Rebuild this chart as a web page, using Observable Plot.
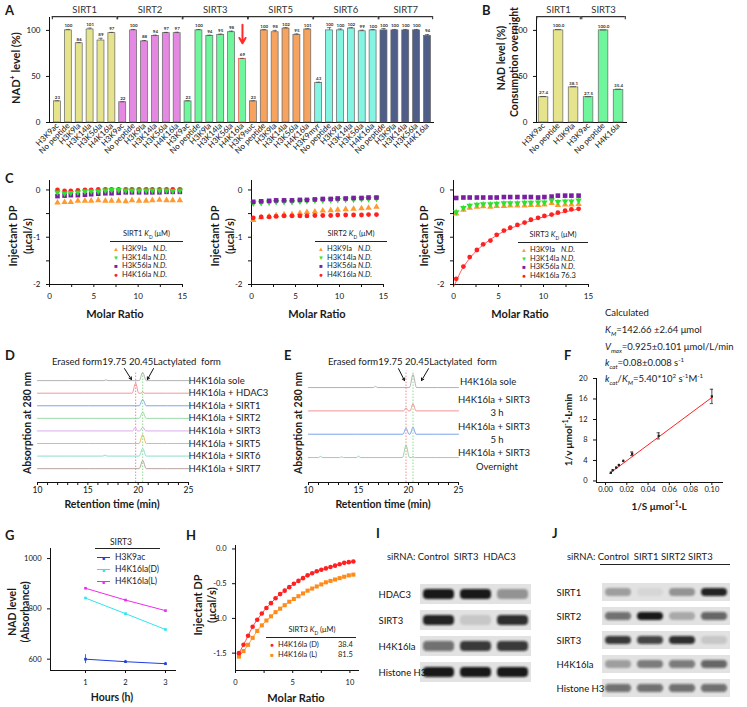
<!DOCTYPE html>
<html><head><meta charset="utf-8">
<script src="https://cdn.jsdelivr.net/npm/d3@7"></script>
<script src="https://cdn.jsdelivr.net/npm/@observablehq/plot@0.6"></script>
<style>
html,body{margin:0;padding:0;background:#fff;}
#root{position:relative;width:747px;height:707px;overflow:hidden;font-family:Lato,"Open Sans",sans-serif;color:#1a1a1a;}
.t{position:absolute;white-space:nowrap;line-height:1;}
sub,sup{font-size:65%;line-height:0;}
.ul{position:absolute;height:0;border-top:1px solid #222;}
</style></head><body><div id="root"></div>
<script>
// ---------------- DATA ----------------
// Panel A
const aGroups = ["SIRT1","SIRT2","SIRT3","SIRT5","SIRT6","SIRT7"];
const aColors = ["#e6e38d","#e588e2","#6ff59b","#f5a35e","#83f5e2","#4e5e88"];
const aPeptides = [
  ["H3K9ac","No peptide","H3K9la","H3K14la","H3K56la","H4K16la"],
  ["H3K9ac","No peptide","H3K9la","H3K14la","H3K56la","H4K16la"],
  ["H3K9ac","No peptide","H3K9la","H3K14la","H3K56la","H4K16la"],
  ["H3K9suc","No peptide","H3K9la","H3K14la","H3K56la","H4K16la"],
  ["H3K9myr","No peptide","H3K9la","H3K14la","H3K56la","H4K16la"],
  ["No peptide","H3K9la","H3K14la","H3K56la","H4K16la"]
];
const aValues = [[23,100,86,101,89,97],[22,100,88,94,97,97],[23,100,94,95,98,69],[23,100,98,102,95,101],[43,100,100,102,99,100],[100,100,100,100,94]];
const aErrors = [[0.5,1,0.8,1.5,2.5,0.8],[0.5,1,1,0.8,0.8,1],[0.5,1,0.8,1,1.2,0.6],[0.5,0.8,2,1,1.2,0.8],[0.8,3,1.5,1,1.2,0.8],[2,1,1,1,1.5,1]];
// Panel B
const bGroups = ["SIRT1","SIRT1","SIRT1","SIRT3","SIRT3","SIRT3"];
const bLabels = ["H3K9ac","No peptide","H3K9la","H3K9ac","No peptide","H4K16la"];
const bValues = [27.4,100.0,38.1,27.5,100.0,35.4];
const bErrors = [0.8,1,0.8,0.5,0.5,0.8];
const bColors = {SIRT1:"#e6e38d", SIRT3:"#6ff59b"};
// Panel C
const cColors = {H3K9la:"#ff9a30", H3K14la:"#2fe02f", H3K56la:"#7b1fa2", H4K16la:"#ff2020"};
const c1X = [0.9,1.7,2.4,3.2,4.0,4.7,5.5,6.3,7.0,7.8,8.6,9.3,10.1,10.9,11.6,12.4,13.2,13.9,14.7];
const c1H3K9la = [-0.27,-0.26,-0.26,-0.23,-0.23,-0.23,-0.22,-0.23,-0.23,-0.23,-0.24,-0.22,-0.23,-0.23,-0.22,-0.21,-0.22,-0.22,-0.22];
const c1H3K14la = [-0.05,-0.07,-0.06,-0.05,-0.03,-0.03,-0.03,-0.01,0,0,-0.01,-0.01,-0.01,-0.01,-0.01,-0.01,-0.01,-0.02,-0.01];
const c1H3K56la = [-0.13,-0.12,-0.11,-0.11,-0.10,-0.09,-0.08,-0.07,-0.07,-0.06,-0.05,-0.05,-0.05,-0.05,-0.05,-0.05,-0.04,-0.04,-0.04];
const c1H4K16la = [0,-0.02,-0.02,-0.01,0,0,0.01,0.01,0.01,0.01,0.01,0.01,0.01,0.01,0.01,0.01,0.01,0.01,0.01];
const c2X = [0.2,1.1,2.0,2.8,3.7,4.6,5.5,6.3,7.2,8.1,9.0,9.8,10.7,11.6,12.5,13.3,14.2];
const c2H3K9la = [-0.64,-0.58,-0.56,-0.54,-0.52,-0.52,-0.49,-0.47,-0.46,-0.44,-0.43,-0.42,-0.41,-0.40,-0.39,-0.38,-0.36];
const c2H3K14la = [-0.28,-0.27,-0.26,-0.25,-0.25,-0.25,-0.24,-0.23,-0.22,-0.22,-0.21,-0.21,-0.20,-0.20,-0.19,-0.19,-0.18];
const c2H3K56la = [-0.25,-0.24,-0.23,-0.22,-0.22,-0.22,-0.21,-0.21,-0.20,-0.19,-0.19,-0.18,-0.18,-0.17,-0.17,-0.16,-0.16];
const c2H4K16la = [-0.59,-0.57,-0.57,-0.56,-0.55,-0.55,-0.55,-0.55,-0.54,-0.54,-0.54,-0.53,-0.53,-0.53,-0.53,-0.52,-0.52];
const c3X = [0.3,1.1,1.8,2.6,3.3,4.1,4.8,5.6,6.3,7.1,7.9,8.6,9.4,10.1,10.9,11.6,12.4,13.1,13.9];
const c3H3K9la = [-0.50,-0.42,-0.38,-0.36,-0.35,-0.36,-0.34,-0.34,-0.33,-0.33,-0.33,-0.32,-0.32,-0.31,-0.28,-0.32,-0.31,-0.31,-0.30];
const c3H3K14la = [-0.47,-0.38,-0.33,-0.31,-0.30,-0.30,-0.29,-0.28,-0.28,-0.28,-0.27,-0.27,-0.26,-0.26,-0.22,-0.25,-0.24,-0.24,-0.22];
const c3H3K56la = [-0.17,-0.16,-0.16,-0.16,-0.16,-0.16,-0.16,-0.15,-0.15,-0.15,-0.15,-0.15,-0.16,-0.15,-0.14,-0.12,-0.12,-0.12,-0.12];
const c3H4K16la = [-1.88,-1.62,-1.42,-1.27,-1.15,-1.07,-0.95,-0.86,-0.80,-0.74,-0.69,-0.63,-0.59,-0.55,-0.52,-0.48,-0.44,-0.41,-0.40];
const c3FitX = [0,0.5,1,2,3,4,5,6,8,10,12,14];
const c3FitY = [-2.05,-1.85,-1.66,-1.40,-1.21,-1.06,-0.94,-0.84,-0.69,-0.57,-0.48,-0.40];
const c3Err = [0.06,0.05,0.05,0.05,0.05,0.05,0.05,0.05,0.05,0.05,0.05,0.05,0.05,0.05,0.05,0.05,0.05,0.05,0.05];
// Panel D (retention time, absorbance offset units)
const dNames = ["H4K16la sole","H4K16la + HDAC3","H4K16la + SIRT1","H4K16la + SIRT2","H4K16la + SIRT3","H4K16la + SIRT5","H4K16la + SIRT6","H4K16la + SIRT7"];
const dColors = ["#a9a9a9","#f28b8b","#6f9be8","#8fd4a0","#d6a3ea","#e8b447","#7fd9cf","#b09a95"];
const dSole  = [[10,0],[16.6,0],[16.8,0.06],[17.0,0],[20.1,0],[20.45,0.65],[20.8,0],[25,0]];
const dHDAC3 = [[10,0],[19.4,0],[19.75,0.8],[20.05,0],[20.3,0],[20.45,0.12],[20.6,0],[25,0]];
const dSIRT1 = [[10,0],[20.1,0],[20.45,0.5],[20.8,0],[25,0]];
const dSIRT2 = [[10,0],[20.1,0],[20.45,0.5],[20.8,0],[25,0]];
const dSIRT3 = [[10,0],[19.45,0],[19.7,0.28],[19.95,0],[20.15,0],[20.45,0.3],[20.75,0],[25,0]];
const dSIRT5 = [[10,0],[20.1,0],[20.45,0.7],[20.8,0],[25,0]];
const dSIRT6 = [[10,0],[16.5,0],[16.7,0.08],[16.9,0],[20.1,0],[20.45,0.6],[20.8,0],[25,0]];
const dSIRT7 = [[10,0],[20.1,0],[20.45,0.65],[20.8,0],[25,0]];
const dMarkers = [19.75, 20.45];
const dArrows = [{x1:18.64,y1:0.96,x2:19.33,y2:0.09},{x1:21.52,y1:0.96,x2:20.92,y2:0.09}];
// Panel E
const eColors = ["#a9a9a9","#f08a8a","#6e98e6","#88cf98"];
const eSole = [[10,0],[16.5,0],[16.7,0.05],[16.9,0],[20.1,0],[20.45,0.56],[20.8,0],[25,0]];
const e3h = [[10,0],[19.5,0],[19.75,0.13],[20.0,0],[20.15,0],[20.45,0.3],[20.75,0],[25,0]];
const e5h = [[10,0],[19.45,0],[19.75,0.26],[20.05,0],[20.15,0],[20.45,0.3],[20.75,0],[25,0]];
const eOvernight = [[10,0],[11.0,0],[11.2,0.05],[11.4,0],[13.1,0],[13.3,0.03],[13.5,0],[14.8,0],[15.0,0.06],[15.2,0],[19.4,0],[19.75,0.52],[20.1,0],[20.3,0],[20.45,0.04],[20.6,0],[25,0]];
const eArrows = [{x1:19.0,y1:0.81,x2:19.6,y2:0.3},{x1:22.0,y1:0.81,x2:21.3,y2:0.3}];
// Panel F
const fS = [0.005,0.0067,0.01,0.0125,0.0167,0.025,0.05,0.1];
const fV = [1.6,2.1,2.6,3.1,3.9,5.3,8.8,16.5];
const fErr = [0.1,0.1,0.15,0.15,0.2,0.35,0.6,1.4];
const fFitS = [0.004,0.1];
const fFitV = [1.5,16.3];
// Panel G
const gHours = [1,2,3];
const gH3K9ac = [600,590,582];
const gH3K9acErr = [18,5,5];
const gH4K16laD = [843,781,718];
const gH4K16laL = [882,835,793];
// Panel H
const hX = [0.3,0.7,1.1,1.5,1.9,2.3,2.7,3.1,3.5,3.9,4.3,4.7,5.1,5.5,5.9,6.3,6.7,7.1,7.5,7.9,8.3,8.7,9.1,9.5,9.9,10.3];
const hD = [-1.50,-1.38,-1.25,-1.12,-1.02,-0.93,-0.85,-0.78,-0.71,-0.65,-0.60,-0.55,-0.50,-0.46,-0.42,-0.38,-0.35,-0.32,-0.30,-0.28,-0.26,-0.24,-0.22,-0.20,-0.19,-0.18];
const hL = [-1.55,-1.47,-1.38,-1.28,-1.18,-1.10,-1.03,-0.97,-0.91,-0.86,-0.81,-0.76,-0.72,-0.68,-0.64,-0.60,-0.57,-0.54,-0.51,-0.48,-0.46,-0.44,-0.42,-0.40,-0.38,-0.37];
// Panel I / J blots (band intensity 0..1)
const iLanes = ["Control","SIRT3","HDAC3"];
const iRows = ["HDAC3","SIRT3","H4K16la","Histone H3"];
const iBands = [[0.95,0.95,0.35],[0.9,0.12,0.85],[0.55,0.8,0.8],[0.95,0.95,0.95]];
const jLanes = ["Control","SIRT1","SIRT2","SIRT3"];
const jRows = ["SIRT1","SIRT2","SIRT3","H4K16la","Histone H3"];
const jBands = [[0.3,0.05,0.35,0.9],[0.55,0.95,0.25,0.6],[0.8,0.75,0.85,0.12],[0.3,0.45,0.5,0.6],[0.55,0.55,0.55,0.55]];

// ---------------- HELPERS ----------------
const root = document.getElementById("root");
function place(node, left, top){ const d=document.createElement("div"); d.style.position="absolute"; d.style.left=left+"px"; d.style.top=top+"px"; d.appendChild(node); root.appendChild(d); return node; }
function panel(frame, m, opts){
  const fs = opts.fs || 8; const o = Object.assign({}, opts); delete o.fs;
  const p = Plot.plot(Object.assign({
    width: frame.x1-frame.x0+m.l+m.r, height: frame.y1-frame.y0+m.t+m.b,
    marginLeft:m.l, marginRight:m.r, marginTop:m.t, marginBottom:m.b,
    color:{type:"identity"},
    style:{fontFamily:"Lato, 'Open Sans', sans-serif", fontSize: fs+"px", color:"#111", background:"transparent", overflow:"visible"}
  }, o));
  return place(p, frame.x0-m.l, frame.y0-m.t);
}
function txt(html, x, y, o={}){
  const d=document.createElement("div"); d.className="t"; d.innerHTML=html;
  d.style.left=x+"px"; d.style.top=y+"px"; d.style.fontSize=(o.fs||9)+"px";
  if(o.bold) d.style.fontWeight="bold"; if(o.italic) d.style.fontStyle="italic"; d.style.color=o.color||"#1a1a1a";
  const ax = o.anchor==="middle"?"-50%":o.anchor==="end"?"-100%":"0";
  d.style.transform = o.rot ? `translate(-50%,-50%) rotate(${o.rot}deg)` : `translate(${ax},-50%)`;
  root.appendChild(d); return d;
}
function uline(x0,x1,y){ const d=document.createElement("div"); d.className="ul"; d.style.left=x0+"px"; d.style.width=(x1-x0)+"px"; d.style.top=y+"px"; root.appendChild(d); }
const zip = (xs, ys) => xs.map((x,i)=>({x, y: ys[i]}));
const triDown = { draw(ctx, size){ const y = -Math.sqrt(size/(Math.sqrt(3)*3)); ctx.moveTo(0,-y*2); ctx.lineTo(Math.sqrt(3)*y, y); ctx.lineTo(-Math.sqrt(3)*y, y); ctx.closePath(); } };

// ---------------- PANEL A ----------------
const aRows = []; const aGroupRows = []; let k = 0;
aGroups.forEach((g,gi)=>{ const s=k; aPeptides[gi].forEach((p,pi)=>{ aRows.push({i:k, gi, label:p, v:aValues[gi][pi], e:aErrors[gi][pi], hl: g==="SIRT3" && p==="H4K16la"}); k++; }); aGroupRows.push({name:g, s, e:k-1, c:(s+k-1)/2}); });
const aHl = aRows.filter(d=>d.hl);
panel({x0:49,x1:433,y0:17,y1:122},{l:30,r:5,t:17,b:50},{
  x:{domain:[-0.73,34.55], ticks:aRows.map(d=>d.i), tickFormat:i=>aRows[i]?aRows[i].label:"", tickRotate:-45, tickSize:0, tickPadding:2, line:true, label:null},
  y:{domain:[0,114], ticks:[0,50,100], tickFormat:d=>String(d), tickSize:3, line:true, label:null},
  marks:[
    Plot.rect(aRows,{x1:d=>d.i-0.32, x2:d=>d.i+0.32, y1:0, y2:"v", fill:d=>aColors[d.gi], stroke:d=>d.hl?"#ff4a4a":"#666", strokeWidth:0.7}),
    Plot.ruleX(aRows,{x:"i", y1:"v", y2:d=>d.v+d.e, stroke:"#333", strokeWidth:0.6}),
    Plot.ruleY(aRows,{y:d=>d.v+d.e, x1:d=>d.i-0.2, x2:d=>d.i+0.2, stroke:"#333", strokeWidth:0.6}),
    Plot.text(aRows,{x:"i", y:d=>d.v+d.e, text:d=>String(d.v), dy:-3.5, fontSize:4.5, fontWeight:"bold", fill:"#333"}),
    Plot.ruleY(aGroupRows,{y:115, x1:d=>d.s-0.47, x2:d=>d.e+0.47, stroke:"#333", strokeWidth:1.1}),
    Plot.ruleX(aGroupRows,{x:d=>d.s-0.47, y1:111.5, y2:115, stroke:"#333", strokeWidth:1.1}),
    Plot.ruleX(aGroupRows,{x:d=>d.e+0.47, y1:111.5, y2:115, stroke:"#333", strokeWidth:1.1}),
    Plot.text(aGroupRows,{x:"c", y:122.5, text:"name", fontSize:9.5, fill:"#333"}),
    Plot.arrow(aHl,{x1:"i", x2:"i", y1:106, y2:86, stroke:"#ff2a2a", strokeWidth:2, headLength:6})
  ]
});
txt("A",5,10,{bold:true,fs:13});
txt("NAD<sup>+</sup> level (%)",15,68,{bold:true,fs:11,rot:-90});

// ---------------- PANEL B ----------------
const bRows = bLabels.map((l,i)=>({i, label:l, v:bValues[i], e:bErrors[i], g:bGroups[i]}));
const bGroupRows = ["SIRT1","SIRT3"].map(g=>{ const r=bRows.filter(d=>d.g===g); return {name:g, s:r[0].i, e:r[r.length-1].i, c:(r[0].i+r[r.length-1].i)/2}; });
panel({x0:536,x1:626,y0:17,y1:122},{l:20,r:5,t:17,b:50},{
  x:{domain:[-0.47,5.53], ticks:bRows.map(d=>d.i), tickFormat:i=>bRows[i]?bRows[i].label:"", tickRotate:-45, tickSize:0, tickPadding:2, line:true, label:null},
  y:{domain:[0,114], ticks:[0,50,100], tickFormat:d=>String(d), tickSize:3, line:true, label:null},
  marks:[
    Plot.rect(bRows,{x1:d=>d.i-0.32, x2:d=>d.i+0.32, y1:0, y2:"v", fill:d=>bColors[d.g], stroke:"#666", strokeWidth:0.7}),
    Plot.ruleY(bRows,{y:d=>d.v+d.e, x1:d=>d.i-0.2, x2:d=>d.i+0.2, stroke:"#333", strokeWidth:0.7}),
    Plot.text(bRows,{x:"i", y:d=>d.v+d.e, text:d=>d.v.toFixed(1), dy:-3.5, fontSize:4.5, fontWeight:"bold", fill:"#333"}),
    Plot.ruleY(bGroupRows,{y:115, x1:d=>d.s-0.45, x2:d=>d.e+0.45, stroke:"#333", strokeWidth:1.1}),
    Plot.ruleX(bGroupRows,{x:d=>d.s-0.45, y1:111.5, y2:115, stroke:"#333", strokeWidth:1.1}),
    Plot.ruleX(bGroupRows,{x:d=>d.e+0.45, y1:111.5, y2:115, stroke:"#333", strokeWidth:1.1}),
    Plot.text(bGroupRows,{x:"c", y:122.5, text:"name", fontSize:9.5, fill:"#333"})
  ]
});
txt("B",482,10,{bold:true,fs:13});
txt("NAD level (%)",501,58,{bold:true,fs:10.5,rot:-90});
txt("Consumption overnight",514,62,{bold:true,fs:10.5,rot:-90});

// ---------------- PANEL C ----------------
function cPlot(frame, sets, extra){
  const marks = [];
  if (extra) marks.push(...extra);
  for (const [name, xs, ys] of sets){
    const data = zip(xs, ys); const c = cColors[name];
    const sym = name==="H3K9la"?"triangle":name==="H3K14la"?triDown:name==="H3K56la"?"square":"circle";
    marks.push(Plot.dot(data,{x:"x", y:"y", symbol:sym, fill:c, r: name==="H3K56la"?2.6:2.4}));
  }
  return panel(frame,{l:16,r:4,t:2,b:16},{
    x:{domain:[0,15], ticks:[0,2.5,5,7.5,10,12.5,15], tickFormat:d=>d%5===0?String(d):"", tickSize:3, line:true, label:null},
    y:{domain:[-2,0.2], ticks:[-2,-1.5,-1,-0.5,0], tickFormat:d=>Number.isInteger(d)?String(d):"", tickSize:3, line:true, label:null},
    marks
  });
}
cPlot({x0:49,x1:182,y0:180,y1:284},[["H4K16la",c1X,c1H4K16la],["H3K56la",c1X,c1H3K56la],["H3K14la",c1X,c1H3K14la],["H3K9la",c1X,c1H3K9la]]);
cPlot({x0:251,x1:383,y0:180,y1:284},[["H3K9la",c2X,c2H3K9la],["H4K16la",c2X,c2H4K16la],["H3K14la",c2X,c2H3K14la],["H3K56la",c2X,c2H3K56la]]);
cPlot({x0:453,x1:588,y0:180,y1:284},[["H4K16la",c3X,c3H4K16la],["H3K56la",c3X,c3H3K56la],["H3K9la",c3X,c3H3K9la],["H3K14la",c3X,c3H3K14la]],
  [Plot.line(zip(c3FitX,c3FitY),{x:"x",y:"y",stroke:"#ff3030",strokeWidth:0.8,curve:"natural"}),
   Plot.ruleX(zip(c3X,c3H3K14la),{x:"x", y1:(d,i)=>d.y-c3Err[i], y2:(d,i)=>d.y+c3Err[i], stroke:"#2fe02f", strokeWidth:0.8})]);
txt("C",5,178,{bold:true,fs:13});
for (const [x,cx] of [[12,115],[214,317],[423,520]]){
  txt("Injectant DP",x,236,{bold:true,fs:11,rot:-90});
  txt("(μcal/s)",x+15,236,{bold:true,fs:11,rot:-90});
  txt("Molar Ratio",cx,313,{bold:true,fs:11,anchor:"middle"});
}
const cLegendNames = ["H3K9la","H3K14la","H3K56la","H4K16la"];
const cLegendSym = {H3K9la:"▲",H3K14la:"▼",H3K56la:"■",H4K16la:"●"};
function cLegend(title, x0, x1, yT, vals){
  txt(title,(x0+x1)/2,yT,{fs:7.5,anchor:"middle"});
  uline(x0,x1,yT+7);
  cLegendNames.forEach((n,i)=>{
    const y = yT+15+i*8.6;
    txt(cLegendSym[n], x0+6, y, {fs:6, anchor:"middle", color:cColors[n]});
    txt(n, x0+12, y, {fs:7.5});
    txt(vals[i], x0+43, y, {fs:7.5, italic: vals[i]==="N.D."});
  });
}
cLegend("SIRT1 <i>K</i><sub>D</sub> (μM)",110,183,234,["N.D.","N.D.","N.D.","N.D."]);
cLegend("SIRT2 <i>K</i><sub>D</sub> (μM)",315,387,234,["N.D.","N.D.","N.D.","N.D."]);
cLegend("SIRT3 <i>K</i><sub>D</sub> (μM)",518,588,235,["N.D.","N.D.","N.D.","76.3"]);

// ---------------- PANEL D / E ----------------
function chrom(frame, ydom, traces, colors, arrows, names){
  const marks = [
    Plot.ruleX(dMarkers,{x:d=>d, y1:ydom[0], y2:0.7, stroke:(d,i)=>i===0?"#f07070":"#70d070", strokeDasharray:"1.5,1.5", strokeWidth:0.8})
  ];
  traces.forEach((pts,i)=>marks.push(Plot.line(pts.map(([t,v])=>({t, y:v-i})),{x:"t", y:"y", stroke:colors[i], strokeWidth:0.9, curve:"monotone-x"})));
  if (names) marks.push(Plot.text(names,{x:()=>25, y:(d,i)=>-i, text:d=>d, textAnchor:"start", fontSize:9.5, fill:"#222"}));
  marks.push(Plot.arrow(arrows,{x1:"x1",y1:"y1",x2:"x2",y2:"y2",stroke:"#111",strokeWidth:1,headLength:4}));
  return panel(frame,{l:2,r:2,t:0,b:12},{
    x:{domain:[10,25], ticks:d3.range(10,26), tickFormat:d=>d%5===0?String(d):"", tickSize:3, tickPadding:1.5, line:true, label:null},
    y:{domain:ydom, axis:null},
    marks, fs:8.5
  });
}
chrom({x0:37,x1:188,y0:360,y1:482},[-8.1,1.6],[dSole,dHDAC3,dSIRT1,dSIRT2,dSIRT3,dSIRT5,dSIRT6,dSIRT7],dColors,dArrows,dNames);
chrom({x0:308,x1:458,y0:360,y1:482},[-4.07,1.16],[eSole,e3h,e5h,eOvernight],eColors,eArrows,null);
txt("D",5,355,{bold:true,fs:13});
txt("E",284,355,{bold:true,fs:13});
txt("Erased form19.75 20.45Lactylated&nbsp; form",52,362,{fs:9.5});
txt("Erased form19.75 20.45Lactylated&nbsp; form",328,362,{fs:9.5});
txt("Absorption at 280 nm",27,423,{bold:true,fs:10.5,rot:-90});
txt("Absorption at 280 nm",298,423,{bold:true,fs:10.5,rot:-90});
txt("Retention time (min)",112,504,{bold:true,fs:10.5,anchor:"middle"});
txt("Retention time (min)",383,504,{bold:true,fs:10.5,anchor:"middle"});
txt("H4K16la sole",460,382,{fs:9.5});
txt("H4K16la + SIRT3",458,400,{fs:9.5}); txt("3 h",497,413,{fs:9.5,anchor:"middle"});
txt("H4K16la + SIRT3",458,427,{fs:9.5}); txt("5 h",497,440,{fs:9.5,anchor:"middle"});
txt("H4K16la + SIRT3",458,453,{fs:9.5}); txt("Overnight",497,467,{fs:9.5,anchor:"middle"});

// ---------------- PANEL F ----------------
const fPts = fS.map((s,i)=>({x:s, y:fV[i], e:fErr[i]}));
panel({x0:596,x1:722,y0:378,y1:482},{l:16,r:4,t:4,b:12},{
  x:{domain:[-0.0085,0.110], ticks:[0,0.02,0.04,0.06,0.08,0.10], tickFormat:d=>d.toFixed(2), tickSize:3, tickPadding:1.5, line:true, label:null},
  y:{domain:[-0.3,20], ticks:[0,4,8,12,16,20], tickFormat:d=>String(d), tickSize:3, line:true, label:null},
  marks:[
    Plot.line(zip(fFitS,fFitV),{x:"x",y:"y",stroke:"#ff2020",strokeWidth:1}),
    Plot.ruleX(fPts,{x:"x", y1:d=>d.y-d.e, y2:d=>d.y+d.e, stroke:"#222", strokeWidth:0.8}),
    Plot.ruleY(fPts.filter(d=>d.e>0.3),{y:d=>d.y+d.e, x1:d=>d.x-0.0015, x2:d=>d.x+0.0015, stroke:"#222", strokeWidth:0.8}),
    Plot.ruleY(fPts.filter(d=>d.e>0.3),{y:d=>d.y-d.e, x1:d=>d.x-0.0015, x2:d=>d.x+0.0015, stroke:"#222", strokeWidth:0.8}),
    Plot.dot(fPts,{x:"x",y:"y",symbol:"square",fill:"#222",r:1.3})
  ], fs:7.5
});
txt("F",564,355,{bold:true,fs:13});
txt("Calculated",605,313,{fs:9.5});
txt("<i>K</i><sub><i>M</i></sub>=142.66 ±2.64 μmol",605,330,{fs:9.5});
txt("<i>V</i><sub><i>max</i></sub>=0.925±0.101 μmol/L/min",605,347,{fs:9.5});
txt("<i>k</i><sub><i>cat</i></sub>=0.08±0.008 s<sup>-1</sup>",605,363,{fs:9.5});
txt("<i>k</i><sub><i>cat</i></sub>/<i>K</i><sub><i>M</i></sub>=5.40*10<sup>2</sup> s<sup>-1</sup>M<sup>-1</sup>",605,379,{fs:9.5});
txt("1/v μmol<sup>-1</sup>·L·min",568,430,{bold:true,fs:10,rot:-90});
txt("1/S μmol<sup>-1</sup>·L",659,506,{bold:true,fs:10,anchor:"middle"});

// ---------------- PANEL G ----------------
const gSeries = [["H3K9ac",gH3K9ac,"#1f3fe0"],["H4K16la(D)",gH4K16laD,"#2ee6f0"],["H4K16la(L)",gH4K16laL,"#f02cf0"]];
const gMarks = [];
gSeries.forEach(([n,vals,c])=>{
  const data = zip(gHours, vals);
  gMarks.push(Plot.line(data,{x:"x",y:"y",stroke:c,strokeWidth:1}));
  gMarks.push(Plot.dot(data,{x:"x",y:"y",symbol:"square",fill:c,r:1.5}));
});
gMarks.push(Plot.ruleX(zip(gHours,gH3K9ac),{x:"x", y1:(d,i)=>d.y-gH3K9acErr[i], y2:(d,i)=>d.y+gH3K9acErr[i], stroke:"#1f3fe0", strokeWidth:0.8}));
panel({x0:50,x1:175,y0:548,y1:670},{l:26,r:4,t:4,b:14},{
  x:{domain:[0.125,3.25], ticks:[1,2,3], tickFormat:d=>String(d), tickSize:3, line:true, label:null},
  y:{domain:[555,1040], ticks:[600,800,1000], tickFormat:d=>String(d), tickSize:3, line:true, label:null},
  marks:gMarks, fs:7.5
});
txt("G",5,535,{bold:true,fs:13});
txt("NAD level",12,612,{bold:true,fs:10.5,rot:-90});
txt("(Absorbance)",25,612,{bold:true,fs:10.5,rot:-90});
txt("Hours (h)",112,697,{bold:true,fs:10.5,anchor:"middle"});
txt("SIRT3",121,542,{fs:8.5,anchor:"middle"});
uline(95,160,548);
gSeries.forEach(([n,vals,c],i)=>{
  const y = 557+i*12;
  const l=document.createElement("div"); l.className="ul"; l.style.left="97px"; l.style.width="13px"; l.style.top=y+"px"; l.style.borderTop="1px solid "+c; root.appendChild(l);
  txt("■",103.5,y+0.5,{fs:5,anchor:"middle",color:c});
  txt(n,115,y,{fs:8.5});
});

// ---------------- PANEL H ----------------
panel({x0:235,x1:358,y0:545,y1:670},{l:22,r:4,t:4,b:14},{
  x:{domain:[0,10.75], ticks:[0,2.5,5,7.5,10], tickFormat:d=>d%5===0?String(d):"", tickSize:3, line:true, label:null},
  y:{domain:[-1.75,0.05], ticks:[-1.5,-1,-0.5,0], tickFormat:d=>d.toFixed(1), tickSize:3, line:true, label:null},
  marks:[
    Plot.line(zip(hX,hL),{x:"x",y:"y",stroke:"#ff8c1a",strokeWidth:0.8,curve:"natural"}),
    Plot.line(zip(hX,hD),{x:"x",y:"y",stroke:"#ff2020",strokeWidth:0.8,curve:"natural"}),
    Plot.dot(zip(hX,hL),{x:"x",y:"y",symbol:"square",fill:"#ff8c1a",r:2.3}),
    Plot.dot(zip(hX,hD),{x:"x",y:"y",fill:"#ff2020",r:2.3})
  ], fs:7.5
});
txt("H",186,535,{bold:true,fs:13});
txt("Injectant DP",197,605,{bold:true,fs:11,rot:-90});
txt("(μcal/s)",211,605,{bold:true,fs:11,rot:-90});
txt("Molar Ratio",296,697,{bold:true,fs:11,anchor:"middle"});
txt("SIRT3 <i>K</i><sub>D</sub> (μM)",312,630,{fs:7.5,anchor:"middle"});
uline(266,356,637);
txt("●",272,645,{fs:6,anchor:"middle",color:"#ff2020"}); txt("H4K16la (D)",278,645,{fs:7.5}); txt("38.4",338,645,{fs:7.5});
txt("■",272,655,{fs:6,anchor:"middle",color:"#ff8c1a"}); txt("H4K16la (L)",278,655,{fs:7.5}); txt("81.5",338,655,{fs:7.5});

// ---------------- PANELS I / J (blots) ----------------
function blot(frame, lanes, rows, vals, l, id){
  const cells=[]; rows.forEach((r,ri)=>lanes.forEach((ln,li)=>cells.push({row:r, lane:ln, v:vals[ri][li]})));
  const svg = panel(frame,{l, r:1, t:0, b:0},{
    x:{domain:lanes, padding:0, axis:null},
    y:{domain:rows, padding:0.25},
    marks:[
      Plot.cell(cells,{x:"lane",y:"row",fill:"#e2e2e2"}),
      Plot.cell(cells,{x:"lane",y:"row",fill:"#0d0d0d",fillOpacity:"v",insetLeft:3,insetRight:3,insetTop:5,insetBottom:5,rx:4}),
      Plot.axisY({tickSize:0, textAnchor:"start", dx:-l+5, fontSize:9.5, label:null})
    ], fs:9.5
  });
  const s = d3.select(svg);
  s.append("defs").append("filter").attr("id",id).attr("x","-30%").attr("y","-60%").attr("width","160%").attr("height","220%").append("feGaussianBlur").attr("stdDeviation",1.3);
  s.selectAll('g[aria-label="cell"]').filter((d,i)=>i===1).attr("filter",`url(#${id})`);
}
blot({x0:420,x1:531,y0:576,y1:690},iLanes,iRows,iBands,38,"blurI");
blot({x0:600,x1:731,y0:574,y1:705},jLanes,jRows,jBands,40,"blurJ");
txt("I",376,533,{bold:true,fs:13});
txt("J",552,533,{bold:true,fs:13});
txt("siRNA: Control&nbsp; SIRT3&nbsp; HDAC3",387,557,{fs:9.5});
txt("siRNA: Control&nbsp; SIRT1 SIRT2 SIRT3",567,557,{fs:9.5});
uline(600,730,564);
</script></body></html>
